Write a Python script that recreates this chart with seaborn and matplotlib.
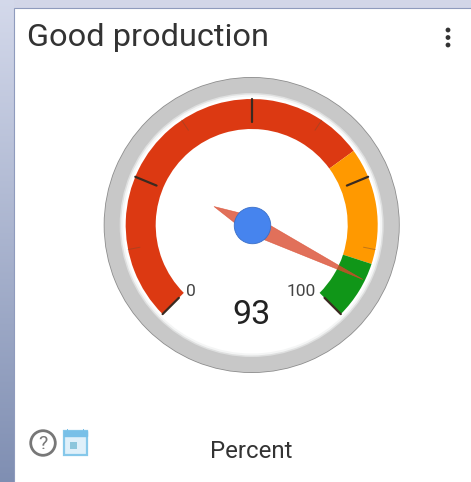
import numpy as np
import pandas as pd
import seaborn as sns
import matplotlib.pyplot as plt
from matplotlib.patches import Circle, Rectangle

# gauge data
title = 'Good production'
unit = 'Percent'
gauge_value = 93
gauge_min = 0
gauge_max = 100
band_starts = [0, 70, 90]
band_ends = [70, 90, 100]
band_colors = ['#dc3912', '#ff9900', '#109618']
major_ticks = [0, 25, 50, 75, 100]
minor_ticks = [12.5, 37.5, 62.5, 87.5]
end_labels = ['0', '100']


def angle(v):
    # 270 degree sweep, 0 is bottom left
    return np.radians(-135 + 270 * (v - gauge_min) / (gauge_max - gauge_min))


def tick_frame(values, r0, r1):
    rows = []
    for v in values:
        rows.append({'tick': v, 'theta': angle(v), 'r': r0})
        rows.append({'tick': v, 'theta': angle(v), 'r': r1})
    return pd.DataFrame(rows)


sns.set_theme(style='white')
plt.rcParams['font.family'] = ['Roboto', 'DejaVu Sans']

W, H = 471, 482
fig = plt.figure(figsize=(W / 100, H / 100), dpi=100)

# background in pixel coordinates
bg = fig.add_axes([0, 0, 1, 1])
bg.set_axis_off()
grad = np.linspace(0, 1, 256).reshape(-1, 1)
cols = np.array([0.83, 0.85, 0.92]) * (1 - grad) + np.array([0.50, 0.56, 0.70]) * grad
bg.imshow(cols.reshape(256, 1, 3), extent=[0, 14, H, 0], aspect='auto', zorder=1)
bg.add_patch(Rectangle((14, 0), W - 14, 7.5, color='#d2d6e8', lw=0, zorder=1))
bg.add_patch(Rectangle((13.5, 7.5), W, H, fc='white', ec='#8f9bbd', lw=0.8, zorder=2))
bg.set_xlim(0, W)
bg.set_ylim(H, 0)

bg.text(27, 38, title, fontsize=23.4, color='#333333', va='center', ha='left', zorder=3)
bg.text(251, 451, unit, fontsize=17.3, color='#333333', va='center', ha='center', zorder=3)

# menu dots
for y in [30, 37.5, 45]:
    bg.add_patch(Circle((448, y), 2.4, color='#333333', lw=0, zorder=3))

# help icon
bg.add_patch(Circle((43, 443), 12.3, fc='none', ec='#777777', lw=2, zorder=3))
bg.text(43, 444, '?', fontsize=14, color='#777777', va='center', ha='center', zorder=3)
# calendar icon
bg.add_patch(Rectangle((64, 431), 23, 23.5, fc='#dff0fa', ec='#86c8ea', lw=1.6, zorder=3))
bg.add_patch(Rectangle((64, 431), 23, 5, fc='#78c0e8', ec='#78c0e8', lw=1, zorder=3))
bg.add_patch(Rectangle((70, 442), 7, 7, fc='#8cc6dc', lw=0, zorder=4))
for x in [67.5, 83.5]:
    bg.add_patch(Rectangle((x - 0.9, 428.5), 1.8, 4, fc='#78c0e8', lw=0, zorder=4))

# gauge on polar axes, 1 r unit = 1 pixel
cx, cy, rmax = 251.7, 225, 150
ax = fig.add_axes([(cx - rmax) / W, (H - cy - rmax) / H, 2 * rmax / W, 2 * rmax / H], projection='polar')
ax.patch.set_alpha(0)
ax.set_theta_zero_location('N')
ax.set_theta_direction(-1)

# bezel
ax.bar(0, 148, width=2 * np.pi, color='#8c8c8c', lw=0, zorder=1)
ax.bar(0, 147.2, width=2 * np.pi, color='#c8c8c8', lw=0, zorder=1)
ax.bar(0, 132, width=2 * np.pi, color='#dfe0e0', lw=0, zorder=1)
ax.bar(0, 130.5, width=2 * np.pi, color='#f4f5f5', lw=0, zorder=1)
ax.bar(0, 128.5, width=2 * np.pi, color='white', lw=0, zorder=1)

# coloured bands
for s, e, c in zip(band_starts, band_ends, band_colors):
    ax.bar(angle(s), 30, width=angle(e) - angle(s), bottom=96, align='edge', color=c, lw=0, zorder=2)

# ticks
sns.lineplot(data=tick_frame(major_ticks, 103, 126), x='theta', y='r', units='tick', estimator=None,
             color='#3a2a20', lw=1.6, ax=ax, zorder=3)
sns.lineplot(data=tick_frame(minor_ticks, 114, 126), x='theta', y='r', units='tick', estimator=None,
             color='#7a4a30', lw=0.7, alpha=0.45, ax=ax, zorder=3)

# needle
t = angle(gauge_value)
needle_r = [124, 9, 42, 9]
needle_t = [t, t + np.pi / 2, t + np.pi, t - np.pi / 2]
ax.fill(needle_t, needle_r, color='#d9482b', alpha=0.78, lw=0.4, zorder=4)

# hub
sns.scatterplot(x=[0], y=[0], s=690, color='#4684ee', edgecolor='#3a6fc8', linewidth=0.6, ax=ax, zorder=5)

ax.set_rlim(0, rmax)
ax.set_axis_off()

# labels above the gauge
top = fig.add_axes([0, 0, 1, 1])
top.patch.set_alpha(0)
top.set_xlim(0, W)
top.set_ylim(H, 0)
top.set_axis_off()
top.text(251.5, 314.5, str(gauge_value), fontsize=24.5, color='#222222', va='center', ha='center')
top.text(191, 292, end_labels[0], fontsize=12.5, color='#444444', va='center', ha='center')
top.text(301, 292, end_labels[1], fontsize=12.5, color='#444444', va='center', ha='center')

fig.savefig('out.png', dpi=100)
